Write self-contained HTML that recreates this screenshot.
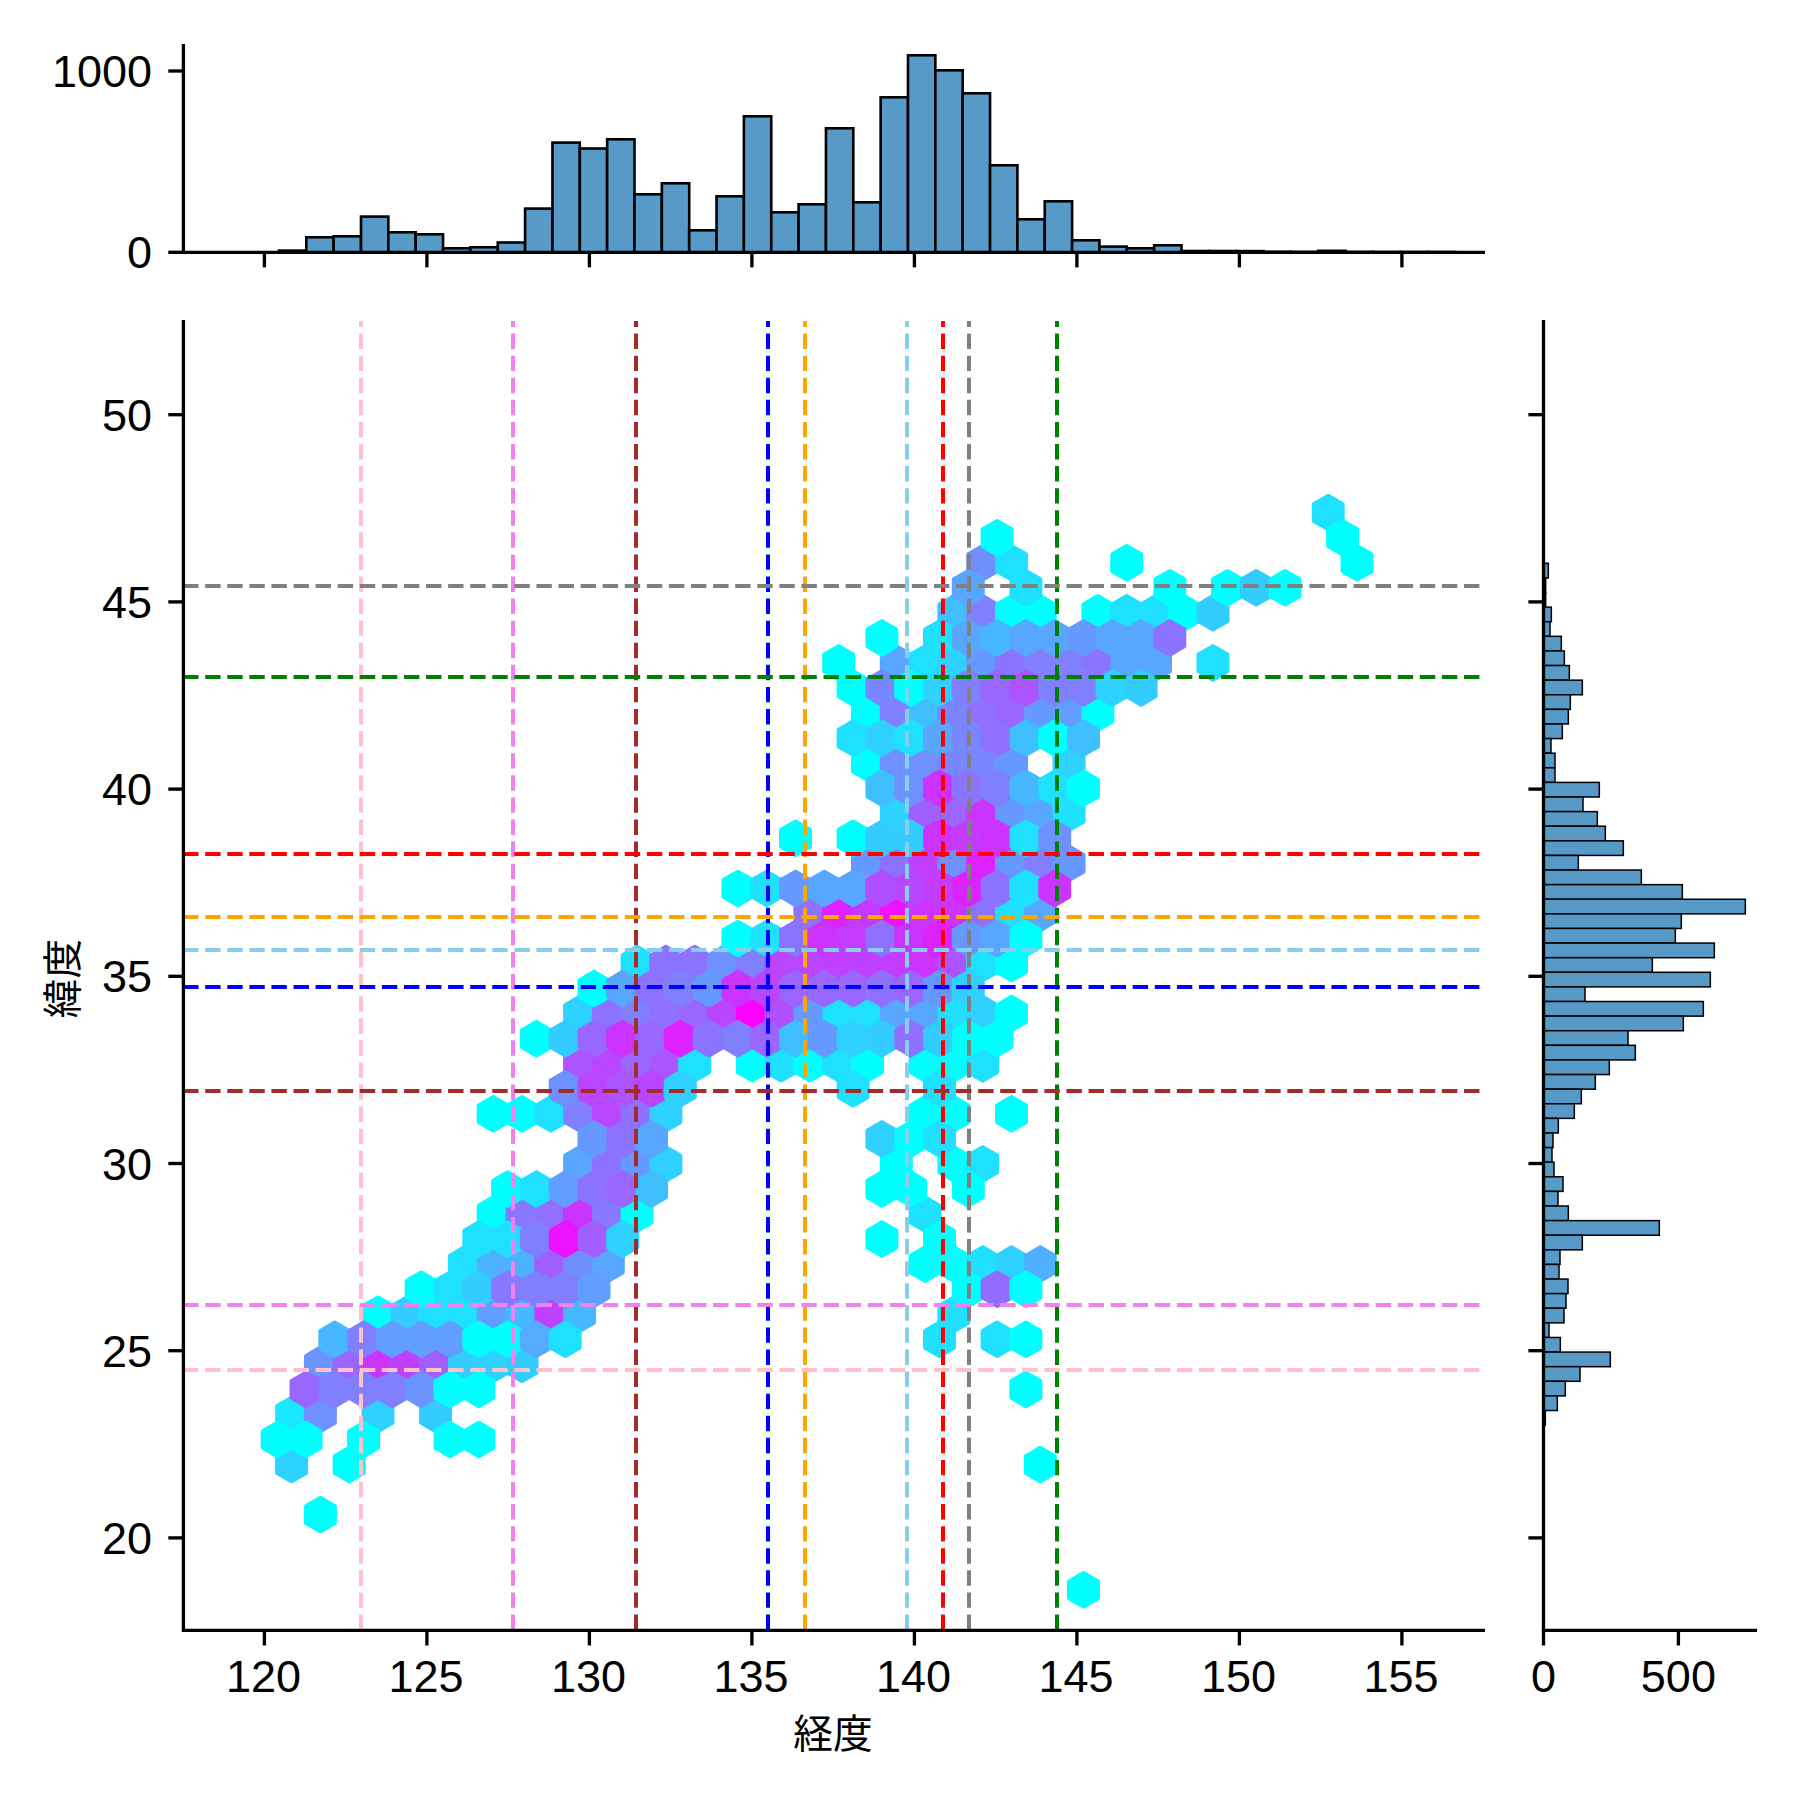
<!DOCTYPE html>
<html lang="ja">
<head>
<meta charset="utf-8">
<title>経度・緯度 jointplot</title>
<style>
html,body{margin:0;padding:0;background:#fff;}
body{width:1800px;height:1800px;overflow:hidden;font-family:"Liberation Sans","Noto Sans CJK JP",sans-serif;}
svg{display:block;}
</style>
</head>
<body>
<svg width="1800" height="1800" viewBox="0 0 1800 1800">
<rect width="1800" height="1800" fill="#fff"/>
<g stroke-width="4.17" stroke-linejoin="round">
<polygon points="306.0,1456.2 306.0,1472.9 291.6,1481.2 277.2,1472.9 277.2,1456.2 291.6,1447.8" fill="#2ed1ff" stroke="#2ed1ff"/>
<polygon points="306.0,1406.1 306.0,1422.8 291.6,1431.2 277.2,1422.8 277.2,1406.1 291.6,1397.8" fill="#1ae6ff" stroke="#1ae6ff"/>
<polygon points="334.8,1506.3 334.8,1523.0 320.4,1531.3 306.0,1523.0 306.0,1506.3 320.4,1497.9" fill="#00ffff" stroke="#00ffff"/>
<polygon points="334.8,1406.1 334.8,1422.8 320.4,1431.2 306.0,1422.8 306.0,1406.1 320.4,1397.8" fill="#6e91ff" stroke="#6e91ff"/>
<polygon points="334.8,1356.0 334.8,1372.7 320.4,1381.0 306.0,1372.7 306.0,1356.0 320.4,1347.6" fill="#6b94ff" stroke="#6b94ff"/>
<polygon points="363.6,1456.2 363.6,1472.9 349.2,1481.2 334.8,1472.9 334.8,1456.2 349.2,1447.8" fill="#00ffff" stroke="#00ffff"/>
<polygon points="363.6,1356.0 363.6,1372.7 349.2,1381.0 334.8,1372.7 334.8,1356.0 349.2,1347.6" fill="#9966ff" stroke="#9966ff"/>
<polygon points="392.4,1406.1 392.4,1422.8 378.0,1431.2 363.6,1422.8 363.6,1406.1 378.0,1397.8" fill="#2ed1ff" stroke="#2ed1ff"/>
<polygon points="392.4,1356.0 392.4,1372.7 378.0,1381.0 363.6,1372.7 363.6,1356.0 378.0,1347.6" fill="#cc33ff" stroke="#cc33ff"/>
<polygon points="392.4,1305.9 392.4,1322.6 378.0,1331.0 363.6,1322.6 363.6,1305.9 378.0,1297.5" fill="#00ffff" stroke="#00ffff"/>
<polygon points="421.2,1356.0 421.2,1372.7 406.8,1381.0 392.4,1372.7 392.4,1356.0 406.8,1347.6" fill="#bf40ff" stroke="#bf40ff"/>
<polygon points="421.2,1305.9 421.2,1322.6 406.8,1331.0 392.4,1322.6 392.4,1305.9 406.8,1297.5" fill="#33ccff" stroke="#33ccff"/>
<polygon points="450.0,1406.1 450.0,1422.8 435.6,1431.2 421.2,1422.8 421.2,1406.1 435.6,1397.8" fill="#33ccff" stroke="#33ccff"/>
<polygon points="450.0,1356.0 450.0,1372.7 435.6,1381.0 421.2,1372.7 421.2,1356.0 435.6,1347.6" fill="#a15eff" stroke="#a15eff"/>
<polygon points="450.0,1305.9 450.0,1322.6 435.6,1331.0 421.2,1322.6 421.2,1305.9 435.6,1297.5" fill="#1fe0ff" stroke="#1fe0ff"/>
<polygon points="478.8,1356.0 478.8,1372.7 464.4,1381.0 450.0,1372.7 450.0,1356.0 464.4,1347.6" fill="#33ccff" stroke="#33ccff"/>
<polygon points="478.8,1305.9 478.8,1322.6 464.4,1331.0 450.0,1322.6 450.0,1305.9 464.4,1297.5" fill="#1fe0ff" stroke="#1fe0ff"/>
<polygon points="478.8,1255.8 478.8,1272.5 464.4,1280.8 450.0,1272.5 450.0,1255.8 464.4,1247.4" fill="#1fe0ff" stroke="#1fe0ff"/>
<polygon points="507.6,1356.0 507.6,1372.7 493.2,1381.0 478.8,1372.7 478.8,1356.0 493.2,1347.6" fill="#2ed1ff" stroke="#2ed1ff"/>
<polygon points="507.6,1305.9 507.6,1322.6 493.2,1331.0 478.8,1322.6 478.8,1305.9 493.2,1297.5" fill="#619eff" stroke="#619eff"/>
<polygon points="507.6,1255.8 507.6,1272.5 493.2,1280.8 478.8,1272.5 478.8,1255.8 493.2,1247.4" fill="#4cb2ff" stroke="#4cb2ff"/>
<polygon points="507.6,1205.7 507.6,1222.4 493.2,1230.8 478.8,1222.4 478.8,1205.7 493.2,1197.3" fill="#00ffff" stroke="#00ffff"/>
<polygon points="507.6,1105.5 507.6,1122.2 493.2,1130.5 478.8,1122.2 478.8,1105.5 493.2,1097.1" fill="#00ffff" stroke="#00ffff"/>
<polygon points="536.4,1356.0 536.4,1372.7 522.0,1381.0 507.6,1372.7 507.6,1356.0 522.0,1347.6" fill="#33ccff" stroke="#33ccff"/>
<polygon points="536.4,1305.9 536.4,1322.6 522.0,1331.0 507.6,1322.6 507.6,1305.9 522.0,1297.5" fill="#47b8ff" stroke="#47b8ff"/>
<polygon points="536.4,1255.8 536.4,1272.5 522.0,1280.8 507.6,1272.5 507.6,1255.8 522.0,1247.4" fill="#4cb2ff" stroke="#4cb2ff"/>
<polygon points="536.4,1205.7 536.4,1222.4 522.0,1230.8 507.6,1222.4 507.6,1205.7 522.0,1197.3" fill="#8778ff" stroke="#8778ff"/>
<polygon points="536.4,1105.5 536.4,1122.2 522.0,1130.5 507.6,1122.2 507.6,1105.5 522.0,1097.1" fill="#00ffff" stroke="#00ffff"/>
<polygon points="565.2,1305.9 565.2,1322.6 550.8,1331.0 536.4,1322.6 536.4,1305.9 550.8,1297.5" fill="#bf40ff" stroke="#bf40ff"/>
<polygon points="565.2,1255.8 565.2,1272.5 550.8,1280.8 536.4,1272.5 536.4,1255.8 550.8,1247.4" fill="#a15eff" stroke="#a15eff"/>
<polygon points="565.2,1205.7 565.2,1222.4 550.8,1230.8 536.4,1222.4 536.4,1205.7 550.8,1197.3" fill="#8f70ff" stroke="#8f70ff"/>
<polygon points="565.2,1105.5 565.2,1122.2 550.8,1130.5 536.4,1122.2 536.4,1105.5 550.8,1097.1" fill="#1fe0ff" stroke="#1fe0ff"/>
<polygon points="594.0,1305.9 594.0,1322.6 579.6,1331.0 565.2,1322.6 565.2,1305.9 579.6,1297.5" fill="#47b8ff" stroke="#47b8ff"/>
<polygon points="594.0,1255.8 594.0,1272.5 579.6,1280.8 565.2,1272.5 565.2,1255.8 579.6,1247.4" fill="#708fff" stroke="#708fff"/>
<polygon points="594.0,1205.7 594.0,1222.4 579.6,1230.8 565.2,1222.4 565.2,1205.7 579.6,1197.3" fill="#cc33ff" stroke="#cc33ff"/>
<polygon points="594.0,1155.6 594.0,1172.3 579.6,1180.6 565.2,1172.3 565.2,1155.6 579.6,1147.2" fill="#59a6ff" stroke="#59a6ff"/>
<polygon points="594.0,1105.5 594.0,1122.2 579.6,1130.5 565.2,1122.2 565.2,1105.5 579.6,1097.1" fill="#8080ff" stroke="#8080ff"/>
<polygon points="594.0,1055.4 594.0,1072.1 579.6,1080.5 565.2,1072.1 565.2,1055.4 579.6,1047.0" fill="#ab54ff" stroke="#ab54ff"/>
<polygon points="594.0,1005.3 594.0,1022.0 579.6,1030.3 565.2,1022.0 565.2,1005.3 579.6,996.9" fill="#2ed1ff" stroke="#2ed1ff"/>
<polygon points="622.7,1255.8 622.7,1272.5 608.4,1280.8 594.0,1272.5 594.0,1255.8 608.4,1247.4" fill="#59a6ff" stroke="#59a6ff"/>
<polygon points="622.7,1205.7 622.7,1222.4 608.4,1230.8 594.0,1222.4 594.0,1205.7 608.4,1197.3" fill="#8778ff" stroke="#8778ff"/>
<polygon points="622.7,1155.6 622.7,1172.3 608.4,1180.6 594.0,1172.3 594.0,1155.6 608.4,1147.2" fill="#8c73ff" stroke="#8c73ff"/>
<polygon points="622.7,1105.5 622.7,1122.2 608.4,1130.5 594.0,1122.2 594.0,1105.5 608.4,1097.1" fill="#ba45ff" stroke="#ba45ff"/>
<polygon points="622.7,1055.4 622.7,1072.1 608.4,1080.5 594.0,1072.1 594.0,1055.4 608.4,1047.0" fill="#ba45ff" stroke="#ba45ff"/>
<polygon points="622.7,1005.3 622.7,1022.0 608.4,1030.3 594.0,1022.0 594.0,1005.3 608.4,996.9" fill="#8c73ff" stroke="#8c73ff"/>
<polygon points="651.5,1205.7 651.5,1222.4 637.1,1230.8 622.7,1222.4 622.7,1205.7 637.1,1197.3" fill="#00ffff" stroke="#00ffff"/>
<polygon points="651.5,1155.6 651.5,1172.3 637.1,1180.6 622.7,1172.3 622.7,1155.6 637.1,1147.2" fill="#6699ff" stroke="#6699ff"/>
<polygon points="651.5,1105.5 651.5,1122.2 637.1,1130.5 622.7,1122.2 622.7,1105.5 637.1,1097.1" fill="#8c73ff" stroke="#8c73ff"/>
<polygon points="651.5,1055.4 651.5,1072.1 637.1,1080.5 622.7,1072.1 622.7,1055.4 637.1,1047.0" fill="#9966ff" stroke="#9966ff"/>
<polygon points="651.5,1005.3 651.5,1022.0 637.1,1030.3 622.7,1022.0 622.7,1005.3 637.1,996.9" fill="#8080ff" stroke="#8080ff"/>
<polygon points="651.5,955.2 651.5,971.9 637.1,980.2 622.7,971.9 622.7,955.2 637.1,946.8" fill="#1fe0ff" stroke="#1fe0ff"/>
<polygon points="680.3,1155.6 680.3,1172.3 665.9,1180.6 651.5,1172.3 651.5,1155.6 665.9,1147.2" fill="#2ed1ff" stroke="#2ed1ff"/>
<polygon points="680.3,1105.5 680.3,1122.2 665.9,1130.5 651.5,1122.2 651.5,1105.5 665.9,1097.1" fill="#2ed1ff" stroke="#2ed1ff"/>
<polygon points="680.3,1055.4 680.3,1072.1 665.9,1080.5 651.5,1072.1 651.5,1055.4 665.9,1047.0" fill="#ab54ff" stroke="#ab54ff"/>
<polygon points="680.3,1005.3 680.3,1022.0 665.9,1030.3 651.5,1022.0 651.5,1005.3 665.9,996.9" fill="#8f70ff" stroke="#8f70ff"/>
<polygon points="680.3,955.2 680.3,971.9 665.9,980.2 651.5,971.9 651.5,955.2 665.9,946.8" fill="#8c73ff" stroke="#8c73ff"/>
<polygon points="709.1,1055.4 709.1,1072.1 694.7,1080.5 680.3,1072.1 680.3,1055.4 694.7,1047.0" fill="#1fe0ff" stroke="#1fe0ff"/>
<polygon points="709.1,1005.3 709.1,1022.0 694.7,1030.3 680.3,1022.0 680.3,1005.3 694.7,996.9" fill="#9966ff" stroke="#9966ff"/>
<polygon points="709.1,955.2 709.1,971.9 694.7,980.2 680.3,971.9 680.3,955.2 694.7,946.8" fill="#8c73ff" stroke="#8c73ff"/>
<polygon points="737.9,1005.3 737.9,1022.0 723.5,1030.3 709.1,1022.0 709.1,1005.3 723.5,996.9" fill="#ba45ff" stroke="#ba45ff"/>
<polygon points="737.9,955.2 737.9,971.9 723.5,980.2 709.1,971.9 709.1,955.2 723.5,946.8" fill="#6e91ff" stroke="#6e91ff"/>
<polygon points="766.7,1055.4 766.7,1072.1 752.3,1080.5 737.9,1072.1 737.9,1055.4 752.3,1047.0" fill="#00ffff" stroke="#00ffff"/>
<polygon points="766.7,1005.3 766.7,1022.0 752.3,1030.3 737.9,1022.0 737.9,1005.3 752.3,996.9" fill="#ff00ff" stroke="#ff00ff"/>
<polygon points="766.7,955.2 766.7,971.9 752.3,980.2 737.9,971.9 737.9,955.2 752.3,946.8" fill="#8080ff" stroke="#8080ff"/>
<polygon points="795.5,1055.4 795.5,1072.1 781.1,1080.5 766.7,1072.1 766.7,1055.4 781.1,1047.0" fill="#1fe0ff" stroke="#1fe0ff"/>
<polygon points="795.5,1005.3 795.5,1022.0 781.1,1030.3 766.7,1022.0 766.7,1005.3 781.1,996.9" fill="#b04fff" stroke="#b04fff"/>
<polygon points="795.5,955.2 795.5,971.9 781.1,980.2 766.7,971.9 766.7,955.2 781.1,946.8" fill="#ba45ff" stroke="#ba45ff"/>
<polygon points="824.3,1055.4 824.3,1072.1 809.9,1080.5 795.5,1072.1 795.5,1055.4 809.9,1047.0" fill="#00ffff" stroke="#00ffff"/>
<polygon points="824.3,1005.3 824.3,1022.0 809.9,1030.3 795.5,1022.0 795.5,1005.3 809.9,996.9" fill="#6699ff" stroke="#6699ff"/>
<polygon points="824.3,955.2 824.3,971.9 809.9,980.2 795.5,971.9 795.5,955.2 809.9,946.8" fill="#ba45ff" stroke="#ba45ff"/>
<polygon points="824.3,905.1 824.3,921.8 809.9,930.1 795.5,921.8 795.5,905.1 809.9,896.7" fill="#8c73ff" stroke="#8c73ff"/>
<polygon points="853.1,1055.4 853.1,1072.1 838.7,1080.5 824.3,1072.1 824.3,1055.4 838.7,1047.0" fill="#1fe0ff" stroke="#1fe0ff"/>
<polygon points="853.1,1005.3 853.1,1022.0 838.7,1030.3 824.3,1022.0 824.3,1005.3 838.7,996.9" fill="#1fe0ff" stroke="#1fe0ff"/>
<polygon points="853.1,955.2 853.1,971.9 838.7,980.2 824.3,971.9 824.3,955.2 838.7,946.8" fill="#bf40ff" stroke="#bf40ff"/>
<polygon points="853.1,905.1 853.1,921.8 838.7,930.1 824.3,921.8 824.3,905.1 838.7,896.7" fill="#de21ff" stroke="#de21ff"/>
<polygon points="853.1,654.6 853.1,671.3 838.7,679.6 824.3,671.3 824.3,654.6 838.7,646.2" fill="#00ffff" stroke="#00ffff"/>
<polygon points="881.9,1055.4 881.9,1072.1 867.5,1080.5 853.1,1072.1 853.1,1055.4 867.5,1047.0" fill="#00ffff" stroke="#00ffff"/>
<polygon points="881.9,1005.3 881.9,1022.0 867.5,1030.3 853.1,1022.0 853.1,1005.3 867.5,996.9" fill="#1fe0ff" stroke="#1fe0ff"/>
<polygon points="881.9,955.2 881.9,971.9 867.5,980.2 853.1,971.9 853.1,955.2 867.5,946.8" fill="#bf40ff" stroke="#bf40ff"/>
<polygon points="881.9,905.1 881.9,921.8 867.5,930.1 853.1,921.8 853.1,905.1 867.5,896.7" fill="#c43bff" stroke="#c43bff"/>
<polygon points="881.9,855.0 881.9,871.7 867.5,880.0 853.1,871.7 853.1,855.0 867.5,846.6" fill="#6699ff" stroke="#6699ff"/>
<polygon points="881.9,754.8 881.9,771.5 867.5,779.9 853.1,771.5 853.1,754.8 867.5,746.4" fill="#00ffff" stroke="#00ffff"/>
<polygon points="881.9,704.7 881.9,721.4 867.5,729.8 853.1,721.4 853.1,704.7 867.5,696.3" fill="#00ffff" stroke="#00ffff"/>
<polygon points="910.7,1155.6 910.7,1172.3 896.3,1180.6 881.9,1172.3 881.9,1155.6 896.3,1147.2" fill="#00ffff" stroke="#00ffff"/>
<polygon points="910.7,1005.3 910.7,1022.0 896.3,1030.3 881.9,1022.0 881.9,1005.3 896.3,996.9" fill="#59a6ff" stroke="#59a6ff"/>
<polygon points="910.7,955.2 910.7,971.9 896.3,980.2 881.9,971.9 881.9,955.2 896.3,946.8" fill="#c23dff" stroke="#c23dff"/>
<polygon points="910.7,905.1 910.7,921.8 896.3,930.1 881.9,921.8 881.9,905.1 896.3,896.7" fill="#ed12ff" stroke="#ed12ff"/>
<polygon points="910.7,855.0 910.7,871.7 896.3,880.0 881.9,871.7 881.9,855.0 896.3,846.6" fill="#8c73ff" stroke="#8c73ff"/>
<polygon points="910.7,804.9 910.7,821.6 896.3,829.9 881.9,821.6 881.9,804.9 896.3,796.5" fill="#2ed1ff" stroke="#2ed1ff"/>
<polygon points="910.7,754.8 910.7,771.5 896.3,779.9 881.9,771.5 881.9,754.8 896.3,746.4" fill="#6e91ff" stroke="#6e91ff"/>
<polygon points="910.7,704.7 910.7,721.4 896.3,729.8 881.9,721.4 881.9,704.7 896.3,696.3" fill="#8080ff" stroke="#8080ff"/>
<polygon points="910.7,654.6 910.7,671.3 896.3,679.6 881.9,671.3 881.9,654.6 896.3,646.2" fill="#59a6ff" stroke="#59a6ff"/>
<polygon points="939.5,1255.8 939.5,1272.5 925.1,1280.8 910.7,1272.5 910.7,1255.8 925.1,1247.4" fill="#00ffff" stroke="#00ffff"/>
<polygon points="939.5,1205.7 939.5,1222.4 925.1,1230.8 910.7,1222.4 910.7,1205.7 925.1,1197.3" fill="#1fe0ff" stroke="#1fe0ff"/>
<polygon points="939.5,1105.5 939.5,1122.2 925.1,1130.5 910.7,1122.2 910.7,1105.5 925.1,1097.1" fill="#00ffff" stroke="#00ffff"/>
<polygon points="939.5,1055.4 939.5,1072.1 925.1,1080.5 910.7,1072.1 910.7,1055.4 925.1,1047.0" fill="#00ffff" stroke="#00ffff"/>
<polygon points="939.5,1005.3 939.5,1022.0 925.1,1030.3 910.7,1022.0 910.7,1005.3 925.1,996.9" fill="#59a6ff" stroke="#59a6ff"/>
<polygon points="939.5,955.2 939.5,971.9 925.1,980.2 910.7,971.9 910.7,955.2 925.1,946.8" fill="#cc33ff" stroke="#cc33ff"/>
<polygon points="939.5,905.1 939.5,921.8 925.1,930.1 910.7,921.8 910.7,905.1 925.1,896.7" fill="#cc33ff" stroke="#cc33ff"/>
<polygon points="939.5,855.0 939.5,871.7 925.1,880.0 910.7,871.7 910.7,855.0 925.1,846.6" fill="#c23dff" stroke="#c23dff"/>
<polygon points="939.5,804.9 939.5,821.6 925.1,829.9 910.7,821.6 910.7,804.9 925.1,796.5" fill="#a15eff" stroke="#a15eff"/>
<polygon points="939.5,754.8 939.5,771.5 925.1,779.9 910.7,771.5 910.7,754.8 925.1,746.4" fill="#6e91ff" stroke="#6e91ff"/>
<polygon points="939.5,704.7 939.5,721.4 925.1,729.8 910.7,721.4 910.7,704.7 925.1,696.3" fill="#40bfff" stroke="#40bfff"/>
<polygon points="939.5,654.6 939.5,671.3 925.1,679.6 910.7,671.3 910.7,654.6 925.1,646.2" fill="#1fe0ff" stroke="#1fe0ff"/>
<polygon points="968.3,1305.9 968.3,1322.6 953.9,1331.0 939.5,1322.6 939.5,1305.9 953.9,1297.5" fill="#1fe0ff" stroke="#1fe0ff"/>
<polygon points="968.3,1255.8 968.3,1272.5 953.9,1280.8 939.5,1272.5 939.5,1255.8 953.9,1247.4" fill="#00ffff" stroke="#00ffff"/>
<polygon points="968.3,1155.6 968.3,1172.3 953.9,1180.6 939.5,1172.3 939.5,1155.6 953.9,1147.2" fill="#00ffff" stroke="#00ffff"/>
<polygon points="968.3,1105.5 968.3,1122.2 953.9,1130.5 939.5,1122.2 939.5,1105.5 953.9,1097.1" fill="#00ffff" stroke="#00ffff"/>
<polygon points="968.3,1055.4 968.3,1072.1 953.9,1080.5 939.5,1072.1 939.5,1055.4 953.9,1047.0" fill="#00ffff" stroke="#00ffff"/>
<polygon points="968.3,1005.3 968.3,1022.0 953.9,1030.3 939.5,1022.0 939.5,1005.3 953.9,996.9" fill="#1fe0ff" stroke="#1fe0ff"/>
<polygon points="968.3,955.2 968.3,971.9 953.9,980.2 939.5,971.9 939.5,955.2 953.9,946.8" fill="#ab54ff" stroke="#ab54ff"/>
<polygon points="968.3,905.1 968.3,921.8 953.9,930.1 939.5,921.8 939.5,905.1 953.9,896.7" fill="#cc33ff" stroke="#cc33ff"/>
<polygon points="968.3,855.0 968.3,871.7 953.9,880.0 939.5,871.7 939.5,855.0 953.9,846.6" fill="#6e91ff" stroke="#6e91ff"/>
<polygon points="968.3,804.9 968.3,821.6 953.9,829.9 939.5,821.6 939.5,804.9 953.9,796.5" fill="#9966ff" stroke="#9966ff"/>
<polygon points="968.3,754.8 968.3,771.5 953.9,779.9 939.5,771.5 939.5,754.8 953.9,746.4" fill="#7887ff" stroke="#7887ff"/>
<polygon points="968.3,704.7 968.3,721.4 953.9,729.8 939.5,721.4 939.5,704.7 953.9,696.3" fill="#7887ff" stroke="#7887ff"/>
<polygon points="968.3,654.6 968.3,671.3 953.9,679.6 939.5,671.3 939.5,654.6 953.9,646.2" fill="#2ed1ff" stroke="#2ed1ff"/>
<polygon points="968.3,604.5 968.3,621.2 953.9,629.5 939.5,621.2 939.5,604.5 953.9,596.1" fill="#40bfff" stroke="#40bfff"/>
<polygon points="997.1,1255.8 997.1,1272.5 982.7,1280.8 968.3,1272.5 968.3,1255.8 982.7,1247.4" fill="#1fe0ff" stroke="#1fe0ff"/>
<polygon points="997.1,1155.6 997.1,1172.3 982.7,1180.6 968.3,1172.3 968.3,1155.6 982.7,1147.2" fill="#1fe0ff" stroke="#1fe0ff"/>
<polygon points="997.1,1055.4 997.1,1072.1 982.7,1080.5 968.3,1072.1 968.3,1055.4 982.7,1047.0" fill="#1fe0ff" stroke="#1fe0ff"/>
<polygon points="997.1,1005.3 997.1,1022.0 982.7,1030.3 968.3,1022.0 968.3,1005.3 982.7,996.9" fill="#2ed1ff" stroke="#2ed1ff"/>
<polygon points="997.1,955.2 997.1,971.9 982.7,980.2 968.3,971.9 968.3,955.2 982.7,946.8" fill="#1fe0ff" stroke="#1fe0ff"/>
<polygon points="997.1,905.1 997.1,921.8 982.7,930.1 968.3,921.8 968.3,905.1 982.7,896.7" fill="#8c73ff" stroke="#8c73ff"/>
<polygon points="997.1,855.0 997.1,871.7 982.7,880.0 968.3,871.7 968.3,855.0 982.7,846.6" fill="#de21ff" stroke="#de21ff"/>
<polygon points="997.1,804.9 997.1,821.6 982.7,829.9 968.3,821.6 968.3,804.9 982.7,796.5" fill="#cc33ff" stroke="#cc33ff"/>
<polygon points="997.1,754.8 997.1,771.5 982.7,779.9 968.3,771.5 968.3,754.8 982.7,746.4" fill="#7887ff" stroke="#7887ff"/>
<polygon points="997.1,704.7 997.1,721.4 982.7,729.8 968.3,721.4 968.3,704.7 982.7,696.3" fill="#8f70ff" stroke="#8f70ff"/>
<polygon points="997.1,654.6 997.1,671.3 982.7,679.6 968.3,671.3 968.3,654.6 982.7,646.2" fill="#6699ff" stroke="#6699ff"/>
<polygon points="997.1,604.5 997.1,621.2 982.7,629.5 968.3,621.2 968.3,604.5 982.7,596.1" fill="#8080ff" stroke="#8080ff"/>
<polygon points="997.1,554.4 997.1,571.1 982.7,579.5 968.3,571.1 968.3,554.4 982.7,546.0" fill="#708fff" stroke="#708fff"/>
<polygon points="1025.9,1255.8 1025.9,1272.5 1011.5,1280.8 997.1,1272.5 997.1,1255.8 1011.5,1247.4" fill="#2ed1ff" stroke="#2ed1ff"/>
<polygon points="1025.9,1105.5 1025.9,1122.2 1011.5,1130.5 997.1,1122.2 997.1,1105.5 1011.5,1097.1" fill="#00ffff" stroke="#00ffff"/>
<polygon points="1025.9,1005.3 1025.9,1022.0 1011.5,1030.3 997.1,1022.0 997.1,1005.3 1011.5,996.9" fill="#00ffff" stroke="#00ffff"/>
<polygon points="1025.9,955.2 1025.9,971.9 1011.5,980.2 997.1,971.9 997.1,955.2 1011.5,946.8" fill="#00ffff" stroke="#00ffff"/>
<polygon points="1025.9,905.1 1025.9,921.8 1011.5,930.1 997.1,921.8 997.1,905.1 1011.5,896.7" fill="#1fe0ff" stroke="#1fe0ff"/>
<polygon points="1025.9,855.0 1025.9,871.7 1011.5,880.0 997.1,871.7 997.1,855.0 1011.5,846.6" fill="#6699ff" stroke="#6699ff"/>
<polygon points="1025.9,804.9 1025.9,821.6 1011.5,829.9 997.1,821.6 997.1,804.9 1011.5,796.5" fill="#6699ff" stroke="#6699ff"/>
<polygon points="1025.9,754.8 1025.9,771.5 1011.5,779.9 997.1,771.5 997.1,754.8 1011.5,746.4" fill="#6699ff" stroke="#6699ff"/>
<polygon points="1025.9,704.7 1025.9,721.4 1011.5,729.8 997.1,721.4 997.1,704.7 1011.5,696.3" fill="#9966ff" stroke="#9966ff"/>
<polygon points="1025.9,654.6 1025.9,671.3 1011.5,679.6 997.1,671.3 997.1,654.6 1011.5,646.2" fill="#8c73ff" stroke="#8c73ff"/>
<polygon points="1025.9,604.5 1025.9,621.2 1011.5,629.5 997.1,621.2 997.1,604.5 1011.5,596.1" fill="#00ffff" stroke="#00ffff"/>
<polygon points="1025.9,554.4 1025.9,571.1 1011.5,579.5 997.1,571.1 997.1,554.4 1011.5,546.0" fill="#1fe0ff" stroke="#1fe0ff"/>
<polygon points="1054.7,1456.2 1054.7,1472.9 1040.3,1481.2 1025.9,1472.9 1025.9,1456.2 1040.3,1447.8" fill="#00ffff" stroke="#00ffff"/>
<polygon points="1054.7,1255.8 1054.7,1272.5 1040.3,1280.8 1025.9,1272.5 1025.9,1255.8 1040.3,1247.4" fill="#4fb0ff" stroke="#4fb0ff"/>
<polygon points="1054.7,905.1 1054.7,921.8 1040.3,930.1 1025.9,921.8 1025.9,905.1 1040.3,896.7" fill="#59a6ff" stroke="#59a6ff"/>
<polygon points="1054.7,855.0 1054.7,871.7 1040.3,880.0 1025.9,871.7 1025.9,855.0 1040.3,846.6" fill="#8080ff" stroke="#8080ff"/>
<polygon points="1054.7,804.9 1054.7,821.6 1040.3,829.9 1025.9,821.6 1025.9,804.9 1040.3,796.5" fill="#59a6ff" stroke="#59a6ff"/>
<polygon points="1054.7,704.7 1054.7,721.4 1040.3,729.8 1025.9,721.4 1025.9,704.7 1040.3,696.3" fill="#6699ff" stroke="#6699ff"/>
<polygon points="1054.7,654.6 1054.7,671.3 1040.3,679.6 1025.9,671.3 1025.9,654.6 1040.3,646.2" fill="#8080ff" stroke="#8080ff"/>
<polygon points="1054.7,604.5 1054.7,621.2 1040.3,629.5 1025.9,621.2 1025.9,604.5 1040.3,596.1" fill="#00ffff" stroke="#00ffff"/>
<polygon points="1083.5,855.0 1083.5,871.7 1069.1,880.0 1054.7,871.7 1054.7,855.0 1069.1,846.6" fill="#6699ff" stroke="#6699ff"/>
<polygon points="1083.5,804.9 1083.5,821.6 1069.1,829.9 1054.7,821.6 1054.7,804.9 1069.1,796.5" fill="#1fe0ff" stroke="#1fe0ff"/>
<polygon points="1083.5,754.8 1083.5,771.5 1069.1,779.9 1054.7,771.5 1054.7,754.8 1069.1,746.4" fill="#2ed1ff" stroke="#2ed1ff"/>
<polygon points="1083.5,704.7 1083.5,721.4 1069.1,729.8 1054.7,721.4 1054.7,704.7 1069.1,696.3" fill="#619eff" stroke="#619eff"/>
<polygon points="1083.5,654.6 1083.5,671.3 1069.1,679.6 1054.7,671.3 1054.7,654.6 1069.1,646.2" fill="#8080ff" stroke="#8080ff"/>
<polygon points="1112.3,704.7 1112.3,721.4 1097.9,729.8 1083.5,721.4 1083.5,704.7 1097.9,696.3" fill="#00ffff" stroke="#00ffff"/>
<polygon points="1112.3,654.6 1112.3,671.3 1097.9,679.6 1083.5,671.3 1083.5,654.6 1097.9,646.2" fill="#8c73ff" stroke="#8c73ff"/>
<polygon points="1112.3,604.5 1112.3,621.2 1097.9,629.5 1083.5,621.2 1083.5,604.5 1097.9,596.1" fill="#00ffff" stroke="#00ffff"/>
<polygon points="1141.1,654.6 1141.1,671.3 1126.7,679.6 1112.3,671.3 1112.3,654.6 1126.7,646.2" fill="#59a6ff" stroke="#59a6ff"/>
<polygon points="1141.1,604.5 1141.1,621.2 1126.7,629.5 1112.3,621.2 1112.3,604.5 1126.7,596.1" fill="#1fe0ff" stroke="#1fe0ff"/>
<polygon points="1141.1,554.4 1141.1,571.1 1126.7,579.5 1112.3,571.1 1112.3,554.4 1126.7,546.0" fill="#00ffff" stroke="#00ffff"/>
<polygon points="1169.9,654.6 1169.9,671.3 1155.5,679.6 1141.1,671.3 1141.1,654.6 1155.5,646.2" fill="#59a6ff" stroke="#59a6ff"/>
<polygon points="1169.9,604.5 1169.9,621.2 1155.5,629.5 1141.1,621.2 1141.1,604.5 1155.5,596.1" fill="#1fe0ff" stroke="#1fe0ff"/>
<polygon points="1198.6,604.5 1198.6,621.2 1184.2,629.5 1169.9,621.2 1169.9,604.5 1184.2,596.1" fill="#00ffff" stroke="#00ffff"/>
<polygon points="1227.4,654.6 1227.4,671.3 1213.0,679.6 1198.6,671.3 1198.6,654.6 1213.0,646.2" fill="#1fe0ff" stroke="#1fe0ff"/>
<polygon points="1227.4,604.5 1227.4,621.2 1213.0,629.5 1198.6,621.2 1198.6,604.5 1213.0,596.1" fill="#33ccff" stroke="#33ccff"/>
<polygon points="1342.6,504.3 1342.6,521.0 1328.2,529.3 1313.8,521.0 1313.8,504.3 1328.2,495.9" fill="#1fe0ff" stroke="#1fe0ff"/>
<polygon points="1371.4,554.4 1371.4,571.1 1357.0,579.5 1342.6,571.1 1342.6,554.4 1357.0,546.0" fill="#00ffff" stroke="#00ffff"/>
<polygon points="291.6,1431.2 291.6,1447.8 277.2,1456.2 262.8,1447.8 262.8,1431.2 277.2,1422.8" fill="#00ffff" stroke="#00ffff"/>
<polygon points="320.4,1431.2 320.4,1447.8 306.0,1456.2 291.6,1447.8 291.6,1431.2 306.0,1422.8" fill="#00ffff" stroke="#00ffff"/>
<polygon points="320.4,1381.0 320.4,1397.7 306.0,1406.1 291.6,1397.7 291.6,1381.0 306.0,1372.7" fill="#9966ff" stroke="#9966ff"/>
<polygon points="349.2,1381.0 349.2,1397.7 334.8,1406.1 320.4,1397.7 320.4,1381.0 334.8,1372.7" fill="#8080ff" stroke="#8080ff"/>
<polygon points="349.2,1331.0 349.2,1347.6 334.8,1356.0 320.4,1347.6 320.4,1331.0 334.8,1322.6" fill="#47b8ff" stroke="#47b8ff"/>
<polygon points="378.0,1431.2 378.0,1447.8 363.6,1456.2 349.2,1447.8 349.2,1431.2 363.6,1422.8" fill="#00ffff" stroke="#00ffff"/>
<polygon points="378.0,1381.0 378.0,1397.7 363.6,1406.1 349.2,1397.7 349.2,1381.0 363.6,1372.7" fill="#8080ff" stroke="#8080ff"/>
<polygon points="378.0,1331.0 378.0,1347.6 363.6,1356.0 349.2,1347.6 349.2,1331.0 363.6,1322.6" fill="#8080ff" stroke="#8080ff"/>
<polygon points="406.8,1381.0 406.8,1397.7 392.4,1406.1 378.0,1397.7 378.0,1381.0 392.4,1372.7" fill="#8080ff" stroke="#8080ff"/>
<polygon points="406.8,1331.0 406.8,1347.6 392.4,1356.0 378.0,1347.6 378.0,1331.0 392.4,1322.6" fill="#619eff" stroke="#619eff"/>
<polygon points="435.6,1381.0 435.6,1397.7 421.2,1406.1 406.8,1397.7 406.8,1381.0 421.2,1372.7" fill="#6b94ff" stroke="#6b94ff"/>
<polygon points="435.6,1331.0 435.6,1347.6 421.2,1356.0 406.8,1347.6 406.8,1331.0 421.2,1322.6" fill="#619eff" stroke="#619eff"/>
<polygon points="435.6,1280.8 435.6,1297.5 421.2,1305.9 406.8,1297.5 406.8,1280.8 421.2,1272.5" fill="#00ffff" stroke="#00ffff"/>
<polygon points="464.4,1431.2 464.4,1447.8 450.0,1456.2 435.6,1447.8 435.6,1431.2 450.0,1422.8" fill="#00ffff" stroke="#00ffff"/>
<polygon points="464.4,1381.0 464.4,1397.7 450.0,1406.1 435.6,1397.7 435.6,1381.0 450.0,1372.7" fill="#00ffff" stroke="#00ffff"/>
<polygon points="464.4,1331.0 464.4,1347.6 450.0,1356.0 435.6,1347.6 435.6,1331.0 450.0,1322.6" fill="#619eff" stroke="#619eff"/>
<polygon points="464.4,1280.8 464.4,1297.5 450.0,1305.9 435.6,1297.5 435.6,1280.8 450.0,1272.5" fill="#1fe0ff" stroke="#1fe0ff"/>
<polygon points="493.2,1431.2 493.2,1447.8 478.8,1456.2 464.4,1447.8 464.4,1431.2 478.8,1422.8" fill="#00ffff" stroke="#00ffff"/>
<polygon points="493.2,1381.0 493.2,1397.7 478.8,1406.1 464.4,1397.7 464.4,1381.0 478.8,1372.7" fill="#00ffff" stroke="#00ffff"/>
<polygon points="493.2,1331.0 493.2,1347.6 478.8,1356.0 464.4,1347.6 464.4,1331.0 478.8,1322.6" fill="#00ffff" stroke="#00ffff"/>
<polygon points="493.2,1280.8 493.2,1297.5 478.8,1305.9 464.4,1297.5 464.4,1280.8 478.8,1272.5" fill="#33ccff" stroke="#33ccff"/>
<polygon points="493.2,1230.8 493.2,1247.4 478.8,1255.8 464.4,1247.4 464.4,1230.8 478.8,1222.4" fill="#1fe0ff" stroke="#1fe0ff"/>
<polygon points="522.0,1331.0 522.0,1347.6 507.6,1356.0 493.2,1347.6 493.2,1331.0 507.6,1322.6" fill="#00ffff" stroke="#00ffff"/>
<polygon points="522.0,1280.8 522.0,1297.5 507.6,1305.9 493.2,1297.5 493.2,1280.8 507.6,1272.5" fill="#8778ff" stroke="#8778ff"/>
<polygon points="522.0,1230.8 522.0,1247.4 507.6,1255.8 493.2,1247.4 493.2,1230.8 507.6,1222.4" fill="#1fe0ff" stroke="#1fe0ff"/>
<polygon points="522.0,1180.7 522.0,1197.3 507.6,1205.7 493.2,1197.3 493.2,1180.7 507.6,1172.3" fill="#00ffff" stroke="#00ffff"/>
<polygon points="550.8,1331.0 550.8,1347.6 536.4,1356.0 522.0,1347.6 522.0,1331.0 536.4,1322.6" fill="#54abff" stroke="#54abff"/>
<polygon points="550.8,1280.8 550.8,1297.5 536.4,1305.9 522.0,1297.5 522.0,1280.8 536.4,1272.5" fill="#8080ff" stroke="#8080ff"/>
<polygon points="550.8,1230.8 550.8,1247.4 536.4,1255.8 522.0,1247.4 522.0,1230.8 536.4,1222.4" fill="#8080ff" stroke="#8080ff"/>
<polygon points="550.8,1180.7 550.8,1197.3 536.4,1205.7 522.0,1197.3 522.0,1180.7 536.4,1172.3" fill="#1fe0ff" stroke="#1fe0ff"/>
<polygon points="550.8,1030.3 550.8,1047.0 536.4,1055.4 522.0,1047.0 522.0,1030.3 536.4,1022.0" fill="#00ffff" stroke="#00ffff"/>
<polygon points="579.6,1331.0 579.6,1347.6 565.2,1356.0 550.8,1347.6 550.8,1331.0 565.2,1322.6" fill="#1fe0ff" stroke="#1fe0ff"/>
<polygon points="579.6,1280.8 579.6,1297.5 565.2,1305.9 550.8,1297.5 550.8,1280.8 565.2,1272.5" fill="#8080ff" stroke="#8080ff"/>
<polygon points="579.6,1230.8 579.6,1247.4 565.2,1255.8 550.8,1247.4 550.8,1230.8 565.2,1222.4" fill="#ed12ff" stroke="#ed12ff"/>
<polygon points="579.6,1180.7 579.6,1197.3 565.2,1205.7 550.8,1197.3 550.8,1180.7 565.2,1172.3" fill="#619eff" stroke="#619eff"/>
<polygon points="579.6,1080.5 579.6,1097.1 565.2,1105.5 550.8,1097.1 550.8,1080.5 565.2,1072.1" fill="#6e91ff" stroke="#6e91ff"/>
<polygon points="579.6,1030.3 579.6,1047.0 565.2,1055.4 550.8,1047.0 550.8,1030.3 565.2,1022.0" fill="#33ccff" stroke="#33ccff"/>
<polygon points="608.4,1280.8 608.4,1297.5 594.0,1305.9 579.6,1297.5 579.6,1280.8 594.0,1272.5" fill="#619eff" stroke="#619eff"/>
<polygon points="608.4,1230.8 608.4,1247.4 594.0,1255.8 579.6,1247.4 579.6,1230.8 594.0,1222.4" fill="#a15eff" stroke="#a15eff"/>
<polygon points="608.4,1180.7 608.4,1197.3 594.0,1205.7 579.6,1197.3 579.6,1180.7 594.0,1172.3" fill="#8c73ff" stroke="#8c73ff"/>
<polygon points="608.4,1130.5 608.4,1147.2 594.0,1155.6 579.6,1147.2 579.6,1130.5 594.0,1122.2" fill="#6699ff" stroke="#6699ff"/>
<polygon points="608.4,1080.5 608.4,1097.1 594.0,1105.5 579.6,1097.1 579.6,1080.5 594.0,1072.1" fill="#ba45ff" stroke="#ba45ff"/>
<polygon points="608.4,1030.3 608.4,1047.0 594.0,1055.4 579.6,1047.0 579.6,1030.3 594.0,1022.0" fill="#9966ff" stroke="#9966ff"/>
<polygon points="608.4,980.2 608.4,996.9 594.0,1005.3 579.6,996.9 579.6,980.2 594.0,971.9" fill="#00ffff" stroke="#00ffff"/>
<polygon points="637.1,1230.8 637.1,1247.4 622.7,1255.8 608.3,1247.4 608.3,1230.8 622.7,1222.4" fill="#2ed1ff" stroke="#2ed1ff"/>
<polygon points="637.1,1180.7 637.1,1197.3 622.7,1205.7 608.3,1197.3 608.3,1180.7 622.7,1172.3" fill="#9966ff" stroke="#9966ff"/>
<polygon points="637.1,1130.5 637.1,1147.2 622.7,1155.6 608.3,1147.2 608.3,1130.5 622.7,1122.2" fill="#8c73ff" stroke="#8c73ff"/>
<polygon points="637.1,1080.5 637.1,1097.1 622.7,1105.5 608.3,1097.1 608.3,1080.5 622.7,1072.1" fill="#ab54ff" stroke="#ab54ff"/>
<polygon points="637.1,1030.3 637.1,1047.0 622.7,1055.4 608.3,1047.0 608.3,1030.3 622.7,1022.0" fill="#cc33ff" stroke="#cc33ff"/>
<polygon points="637.1,980.2 637.1,996.9 622.7,1005.3 608.3,996.9 608.3,980.2 622.7,971.9" fill="#59a6ff" stroke="#59a6ff"/>
<polygon points="665.9,1180.7 665.9,1197.3 651.5,1205.7 637.1,1197.3 637.1,1180.7 651.5,1172.3" fill="#40bfff" stroke="#40bfff"/>
<polygon points="665.9,1130.5 665.9,1147.2 651.5,1155.6 637.1,1147.2 637.1,1130.5 651.5,1122.2" fill="#59a6ff" stroke="#59a6ff"/>
<polygon points="665.9,1080.5 665.9,1097.1 651.5,1105.5 637.1,1097.1 637.1,1080.5 651.5,1072.1" fill="#ba45ff" stroke="#ba45ff"/>
<polygon points="665.9,1030.3 665.9,1047.0 651.5,1055.4 637.1,1047.0 637.1,1030.3 651.5,1022.0" fill="#9966ff" stroke="#9966ff"/>
<polygon points="665.9,980.2 665.9,996.9 651.5,1005.3 637.1,996.9 637.1,980.2 651.5,971.9" fill="#8c73ff" stroke="#8c73ff"/>
<polygon points="694.7,1080.5 694.7,1097.1 680.3,1105.5 665.9,1097.1 665.9,1080.5 680.3,1072.1" fill="#2ed1ff" stroke="#2ed1ff"/>
<polygon points="694.7,1030.3 694.7,1047.0 680.3,1055.4 665.9,1047.0 665.9,1030.3 680.3,1022.0" fill="#de21ff" stroke="#de21ff"/>
<polygon points="694.7,980.2 694.7,996.9 680.3,1005.3 665.9,996.9 665.9,980.2 680.3,971.9" fill="#8080ff" stroke="#8080ff"/>
<polygon points="723.5,1030.3 723.5,1047.0 709.1,1055.4 694.7,1047.0 694.7,1030.3 709.1,1022.0" fill="#8c73ff" stroke="#8c73ff"/>
<polygon points="723.5,980.2 723.5,996.9 709.1,1005.3 694.7,996.9 694.7,980.2 709.1,971.9" fill="#6699ff" stroke="#6699ff"/>
<polygon points="752.3,1030.3 752.3,1047.0 737.9,1055.4 723.5,1047.0 723.5,1030.3 737.9,1022.0" fill="#8080ff" stroke="#8080ff"/>
<polygon points="752.3,980.2 752.3,996.9 737.9,1005.3 723.5,996.9 723.5,980.2 737.9,971.9" fill="#cc33ff" stroke="#cc33ff"/>
<polygon points="752.3,930.1 752.3,946.8 737.9,955.2 723.5,946.8 723.5,930.1 737.9,921.8" fill="#00ffff" stroke="#00ffff"/>
<polygon points="752.3,880.0 752.3,896.8 737.9,905.1 723.5,896.8 723.5,880.0 737.9,871.7" fill="#00ffff" stroke="#00ffff"/>
<polygon points="781.1,1030.3 781.1,1047.0 766.7,1055.4 752.3,1047.0 752.3,1030.3 766.7,1022.0" fill="#9966ff" stroke="#9966ff"/>
<polygon points="781.1,980.2 781.1,996.9 766.7,1005.3 752.3,996.9 752.3,980.2 766.7,971.9" fill="#ba45ff" stroke="#ba45ff"/>
<polygon points="781.1,930.1 781.1,946.8 766.7,955.2 752.3,946.8 752.3,930.1 766.7,921.8" fill="#1fe0ff" stroke="#1fe0ff"/>
<polygon points="781.1,880.0 781.1,896.8 766.7,905.1 752.3,896.8 752.3,880.0 766.7,871.7" fill="#1fe0ff" stroke="#1fe0ff"/>
<polygon points="809.9,1030.3 809.9,1047.0 795.5,1055.4 781.1,1047.0 781.1,1030.3 795.5,1022.0" fill="#40bfff" stroke="#40bfff"/>
<polygon points="809.9,980.2 809.9,996.9 795.5,1005.3 781.1,996.9 781.1,980.2 795.5,971.9" fill="#9966ff" stroke="#9966ff"/>
<polygon points="809.9,930.1 809.9,946.8 795.5,955.2 781.1,946.8 781.1,930.1 795.5,921.8" fill="#8c73ff" stroke="#8c73ff"/>
<polygon points="809.9,880.0 809.9,896.8 795.5,905.1 781.1,896.8 781.1,880.0 795.5,871.7" fill="#6699ff" stroke="#6699ff"/>
<polygon points="809.9,829.9 809.9,846.6 795.5,855.0 781.1,846.6 781.1,829.9 795.5,821.6" fill="#00ffff" stroke="#00ffff"/>
<polygon points="838.7,1030.3 838.7,1047.0 824.3,1055.4 809.9,1047.0 809.9,1030.3 824.3,1022.0" fill="#6699ff" stroke="#6699ff"/>
<polygon points="838.7,980.2 838.7,996.9 824.3,1005.3 809.9,996.9 809.9,980.2 824.3,971.9" fill="#9966ff" stroke="#9966ff"/>
<polygon points="838.7,930.1 838.7,946.8 824.3,955.2 809.9,946.8 809.9,930.1 824.3,921.8" fill="#cc33ff" stroke="#cc33ff"/>
<polygon points="838.7,880.0 838.7,896.8 824.3,905.1 809.9,896.8 809.9,880.0 824.3,871.7" fill="#59a6ff" stroke="#59a6ff"/>
<polygon points="867.5,1080.5 867.5,1097.1 853.1,1105.5 838.7,1097.1 838.7,1080.5 853.1,1072.1" fill="#1fe0ff" stroke="#1fe0ff"/>
<polygon points="867.5,1030.3 867.5,1047.0 853.1,1055.4 838.7,1047.0 838.7,1030.3 853.1,1022.0" fill="#2ed1ff" stroke="#2ed1ff"/>
<polygon points="867.5,980.2 867.5,996.9 853.1,1005.3 838.7,996.9 838.7,980.2 853.1,971.9" fill="#9966ff" stroke="#9966ff"/>
<polygon points="867.5,930.1 867.5,946.8 853.1,955.2 838.7,946.8 838.7,930.1 853.1,921.8" fill="#c43bff" stroke="#c43bff"/>
<polygon points="867.5,880.0 867.5,896.8 853.1,905.1 838.7,896.8 838.7,880.0 853.1,871.7" fill="#59a6ff" stroke="#59a6ff"/>
<polygon points="867.5,829.9 867.5,846.6 853.1,855.0 838.7,846.6 838.7,829.9 853.1,821.6" fill="#00ffff" stroke="#00ffff"/>
<polygon points="867.5,729.7 867.5,746.4 853.1,754.8 838.7,746.4 838.7,729.7 853.1,721.4" fill="#1fe0ff" stroke="#1fe0ff"/>
<polygon points="867.5,679.6 867.5,696.3 853.1,704.7 838.7,696.3 838.7,679.6 853.1,671.3" fill="#00ffff" stroke="#00ffff"/>
<polygon points="896.3,1230.8 896.3,1247.4 881.9,1255.8 867.5,1247.4 867.5,1230.8 881.9,1222.4" fill="#00ffff" stroke="#00ffff"/>
<polygon points="896.3,1180.7 896.3,1197.3 881.9,1205.7 867.5,1197.3 867.5,1180.7 881.9,1172.3" fill="#00ffff" stroke="#00ffff"/>
<polygon points="896.3,1130.5 896.3,1147.2 881.9,1155.6 867.5,1147.2 867.5,1130.5 881.9,1122.2" fill="#2ed1ff" stroke="#2ed1ff"/>
<polygon points="896.3,1030.3 896.3,1047.0 881.9,1055.4 867.5,1047.0 867.5,1030.3 881.9,1022.0" fill="#33ccff" stroke="#33ccff"/>
<polygon points="896.3,980.2 896.3,996.9 881.9,1005.3 867.5,996.9 867.5,980.2 881.9,971.9" fill="#8f70ff" stroke="#8f70ff"/>
<polygon points="896.3,930.1 896.3,946.8 881.9,955.2 867.5,946.8 867.5,930.1 881.9,921.8" fill="#8f70ff" stroke="#8f70ff"/>
<polygon points="896.3,880.0 896.3,896.8 881.9,905.1 867.5,896.8 867.5,880.0 881.9,871.7" fill="#b04fff" stroke="#b04fff"/>
<polygon points="896.3,829.9 896.3,846.6 881.9,855.0 867.5,846.6 867.5,829.9 881.9,821.6" fill="#33ccff" stroke="#33ccff"/>
<polygon points="896.3,779.8 896.3,796.5 881.9,804.9 867.5,796.5 867.5,779.8 881.9,771.5" fill="#40bfff" stroke="#40bfff"/>
<polygon points="896.3,729.7 896.3,746.4 881.9,754.8 867.5,746.4 867.5,729.7 881.9,721.4" fill="#2ed1ff" stroke="#2ed1ff"/>
<polygon points="896.3,679.6 896.3,696.3 881.9,704.7 867.5,696.3 867.5,679.6 881.9,671.3" fill="#7887ff" stroke="#7887ff"/>
<polygon points="896.3,629.5 896.3,646.2 881.9,654.6 867.5,646.2 867.5,629.5 881.9,621.2" fill="#00ffff" stroke="#00ffff"/>
<polygon points="925.1,1180.7 925.1,1197.3 910.7,1205.7 896.3,1197.3 896.3,1180.7 910.7,1172.3" fill="#00ffff" stroke="#00ffff"/>
<polygon points="925.1,1130.5 925.1,1147.2 910.7,1155.6 896.3,1147.2 896.3,1130.5 910.7,1122.2" fill="#00ffff" stroke="#00ffff"/>
<polygon points="925.1,1030.3 925.1,1047.0 910.7,1055.4 896.3,1047.0 896.3,1030.3 910.7,1022.0" fill="#8f70ff" stroke="#8f70ff"/>
<polygon points="925.1,980.2 925.1,996.9 910.7,1005.3 896.3,996.9 896.3,980.2 910.7,971.9" fill="#9966ff" stroke="#9966ff"/>
<polygon points="925.1,930.1 925.1,946.8 910.7,955.2 896.3,946.8 896.3,930.1 910.7,921.8" fill="#cc33ff" stroke="#cc33ff"/>
<polygon points="925.1,880.0 925.1,896.8 910.7,905.1 896.3,896.8 896.3,880.0 910.7,871.7" fill="#b847ff" stroke="#b847ff"/>
<polygon points="925.1,829.9 925.1,846.6 910.7,855.0 896.3,846.6 896.3,829.9 910.7,821.6" fill="#33ccff" stroke="#33ccff"/>
<polygon points="925.1,779.8 925.1,796.5 910.7,804.9 896.3,796.5 896.3,779.8 910.7,771.5" fill="#6e91ff" stroke="#6e91ff"/>
<polygon points="925.1,729.7 925.1,746.4 910.7,754.8 896.3,746.4 896.3,729.7 910.7,721.4" fill="#1fe0ff" stroke="#1fe0ff"/>
<polygon points="925.1,679.6 925.1,696.3 910.7,704.7 896.3,696.3 896.3,679.6 910.7,671.3" fill="#00ffff" stroke="#00ffff"/>
<polygon points="953.9,1331.0 953.9,1347.6 939.5,1356.0 925.1,1347.6 925.1,1331.0 939.5,1322.6" fill="#1fe0ff" stroke="#1fe0ff"/>
<polygon points="953.9,1230.8 953.9,1247.4 939.5,1255.8 925.1,1247.4 925.1,1230.8 939.5,1222.4" fill="#00ffff" stroke="#00ffff"/>
<polygon points="953.9,1130.5 953.9,1147.2 939.5,1155.6 925.1,1147.2 925.1,1130.5 939.5,1122.2" fill="#1fe0ff" stroke="#1fe0ff"/>
<polygon points="953.9,1080.5 953.9,1097.1 939.5,1105.5 925.1,1097.1 925.1,1080.5 939.5,1072.1" fill="#1fe0ff" stroke="#1fe0ff"/>
<polygon points="953.9,1030.3 953.9,1047.0 939.5,1055.4 925.1,1047.0 925.1,1030.3 939.5,1022.0" fill="#33ccff" stroke="#33ccff"/>
<polygon points="953.9,980.2 953.9,996.9 939.5,1005.3 925.1,996.9 925.1,980.2 939.5,971.9" fill="#6699ff" stroke="#6699ff"/>
<polygon points="953.9,930.1 953.9,946.8 939.5,955.2 925.1,946.8 925.1,930.1 939.5,921.8" fill="#de21ff" stroke="#de21ff"/>
<polygon points="953.9,880.0 953.9,896.8 939.5,905.1 925.1,896.8 925.1,880.0 939.5,871.7" fill="#c23dff" stroke="#c23dff"/>
<polygon points="953.9,829.9 953.9,846.6 939.5,855.0 925.1,846.6 925.1,829.9 939.5,821.6" fill="#cc33ff" stroke="#cc33ff"/>
<polygon points="953.9,779.8 953.9,796.5 939.5,804.9 925.1,796.5 925.1,779.8 939.5,771.5" fill="#cc33ff" stroke="#cc33ff"/>
<polygon points="953.9,729.7 953.9,746.4 939.5,754.8 925.1,746.4 925.1,729.7 939.5,721.4" fill="#59a6ff" stroke="#59a6ff"/>
<polygon points="953.9,679.6 953.9,696.3 939.5,704.7 925.1,696.3 925.1,679.6 939.5,671.3" fill="#2ed1ff" stroke="#2ed1ff"/>
<polygon points="953.9,629.5 953.9,646.2 939.5,654.6 925.1,646.2 925.1,629.5 939.5,621.2" fill="#1fe0ff" stroke="#1fe0ff"/>
<polygon points="982.7,1280.8 982.7,1297.5 968.3,1305.9 953.9,1297.5 953.9,1280.8 968.3,1272.5" fill="#00ffff" stroke="#00ffff"/>
<polygon points="982.7,1180.7 982.7,1197.3 968.3,1205.7 953.9,1197.3 953.9,1180.7 968.3,1172.3" fill="#00ffff" stroke="#00ffff"/>
<polygon points="982.7,1030.3 982.7,1047.0 968.3,1055.4 953.9,1047.0 953.9,1030.3 968.3,1022.0" fill="#00ffff" stroke="#00ffff"/>
<polygon points="982.7,980.2 982.7,996.9 968.3,1005.3 953.9,996.9 953.9,980.2 968.3,971.9" fill="#2ed1ff" stroke="#2ed1ff"/>
<polygon points="982.7,930.1 982.7,946.8 968.3,955.2 953.9,946.8 953.9,930.1 968.3,921.8" fill="#6699ff" stroke="#6699ff"/>
<polygon points="982.7,880.0 982.7,896.8 968.3,905.1 953.9,896.8 953.9,880.0 968.3,871.7" fill="#de21ff" stroke="#de21ff"/>
<polygon points="982.7,829.9 982.7,846.6 968.3,855.0 953.9,846.6 953.9,829.9 968.3,821.6" fill="#c43bff" stroke="#c43bff"/>
<polygon points="982.7,779.8 982.7,796.5 968.3,804.9 953.9,796.5 953.9,779.8 968.3,771.5" fill="#8c73ff" stroke="#8c73ff"/>
<polygon points="982.7,729.7 982.7,746.4 968.3,754.8 953.9,746.4 953.9,729.7 968.3,721.4" fill="#7887ff" stroke="#7887ff"/>
<polygon points="982.7,679.6 982.7,696.3 968.3,704.7 953.9,696.3 953.9,679.6 968.3,671.3" fill="#8080ff" stroke="#8080ff"/>
<polygon points="982.7,629.5 982.7,646.2 968.3,654.6 953.9,646.2 953.9,629.5 968.3,621.2" fill="#59a6ff" stroke="#59a6ff"/>
<polygon points="982.7,579.4 982.7,596.1 968.3,604.5 953.9,596.1 953.9,579.4 968.3,571.1" fill="#59a6ff" stroke="#59a6ff"/>
<polygon points="1011.5,1331.0 1011.5,1347.6 997.1,1356.0 982.7,1347.6 982.7,1331.0 997.1,1322.6" fill="#1fe0ff" stroke="#1fe0ff"/>
<polygon points="1011.5,1280.8 1011.5,1297.5 997.1,1305.9 982.7,1297.5 982.7,1280.8 997.1,1272.5" fill="#946bff" stroke="#946bff"/>
<polygon points="1011.5,1030.3 1011.5,1047.0 997.1,1055.4 982.7,1047.0 982.7,1030.3 997.1,1022.0" fill="#00ffff" stroke="#00ffff"/>
<polygon points="1011.5,930.1 1011.5,946.8 997.1,955.2 982.7,946.8 982.7,930.1 997.1,921.8" fill="#59a6ff" stroke="#59a6ff"/>
<polygon points="1011.5,880.0 1011.5,896.8 997.1,905.1 982.7,896.8 982.7,880.0 997.1,871.7" fill="#8c73ff" stroke="#8c73ff"/>
<polygon points="1011.5,829.9 1011.5,846.6 997.1,855.0 982.7,846.6 982.7,829.9 997.1,821.6" fill="#cc33ff" stroke="#cc33ff"/>
<polygon points="1011.5,779.8 1011.5,796.5 997.1,804.9 982.7,796.5 982.7,779.8 997.1,771.5" fill="#8080ff" stroke="#8080ff"/>
<polygon points="1011.5,729.7 1011.5,746.4 997.1,754.8 982.7,746.4 982.7,729.7 997.1,721.4" fill="#8f70ff" stroke="#8f70ff"/>
<polygon points="1011.5,679.6 1011.5,696.3 997.1,704.7 982.7,696.3 982.7,679.6 997.1,671.3" fill="#9966ff" stroke="#9966ff"/>
<polygon points="1011.5,629.5 1011.5,646.2 997.1,654.6 982.7,646.2 982.7,629.5 997.1,621.2" fill="#47b8ff" stroke="#47b8ff"/>
<polygon points="1011.5,529.3 1011.5,546.0 997.1,554.4 982.7,546.0 982.7,529.3 997.1,521.0" fill="#00ffff" stroke="#00ffff"/>
<polygon points="1040.3,1381.0 1040.3,1397.7 1025.9,1406.1 1011.5,1397.7 1011.5,1381.0 1025.9,1372.7" fill="#00ffff" stroke="#00ffff"/>
<polygon points="1040.3,1331.0 1040.3,1347.6 1025.9,1356.0 1011.5,1347.6 1011.5,1331.0 1025.9,1322.6" fill="#00ffff" stroke="#00ffff"/>
<polygon points="1040.3,1280.8 1040.3,1297.5 1025.9,1305.9 1011.5,1297.5 1011.5,1280.8 1025.9,1272.5" fill="#00ffff" stroke="#00ffff"/>
<polygon points="1040.3,930.1 1040.3,946.8 1025.9,955.2 1011.5,946.8 1011.5,930.1 1025.9,921.8" fill="#00ffff" stroke="#00ffff"/>
<polygon points="1040.3,880.0 1040.3,896.8 1025.9,905.1 1011.5,896.8 1011.5,880.0 1025.9,871.7" fill="#1fe0ff" stroke="#1fe0ff"/>
<polygon points="1040.3,829.9 1040.3,846.6 1025.9,855.0 1011.5,846.6 1011.5,829.9 1025.9,821.6" fill="#1fe0ff" stroke="#1fe0ff"/>
<polygon points="1040.3,779.8 1040.3,796.5 1025.9,804.9 1011.5,796.5 1011.5,779.8 1025.9,771.5" fill="#47b8ff" stroke="#47b8ff"/>
<polygon points="1040.3,729.7 1040.3,746.4 1025.9,754.8 1011.5,746.4 1011.5,729.7 1025.9,721.4" fill="#40bfff" stroke="#40bfff"/>
<polygon points="1040.3,679.6 1040.3,696.3 1025.9,704.7 1011.5,696.3 1011.5,679.6 1025.9,671.3" fill="#ab54ff" stroke="#ab54ff"/>
<polygon points="1040.3,629.5 1040.3,646.2 1025.9,654.6 1011.5,646.2 1011.5,629.5 1025.9,621.2" fill="#59a6ff" stroke="#59a6ff"/>
<polygon points="1040.3,579.4 1040.3,596.1 1025.9,604.5 1011.5,596.1 1011.5,579.4 1025.9,571.1" fill="#1fe0ff" stroke="#1fe0ff"/>
<polygon points="1069.1,880.0 1069.1,896.8 1054.7,905.1 1040.3,896.8 1040.3,880.0 1054.7,871.7" fill="#cc33ff" stroke="#cc33ff"/>
<polygon points="1069.1,829.9 1069.1,846.6 1054.7,855.0 1040.3,846.6 1040.3,829.9 1054.7,821.6" fill="#6e91ff" stroke="#6e91ff"/>
<polygon points="1069.1,779.8 1069.1,796.5 1054.7,804.9 1040.3,796.5 1040.3,779.8 1054.7,771.5" fill="#1fe0ff" stroke="#1fe0ff"/>
<polygon points="1069.1,729.7 1069.1,746.4 1054.7,754.8 1040.3,746.4 1040.3,729.7 1054.7,721.4" fill="#00ffff" stroke="#00ffff"/>
<polygon points="1069.1,679.6 1069.1,696.3 1054.7,704.7 1040.3,696.3 1040.3,679.6 1054.7,671.3" fill="#8080ff" stroke="#8080ff"/>
<polygon points="1069.1,629.5 1069.1,646.2 1054.7,654.6 1040.3,646.2 1040.3,629.5 1054.7,621.2" fill="#59a6ff" stroke="#59a6ff"/>
<polygon points="1097.9,1581.5 1097.9,1598.1 1083.5,1606.5 1069.1,1598.1 1069.1,1581.5 1083.5,1573.1" fill="#00ffff" stroke="#00ffff"/>
<polygon points="1097.9,779.8 1097.9,796.5 1083.5,804.9 1069.1,796.5 1069.1,779.8 1083.5,771.5" fill="#00ffff" stroke="#00ffff"/>
<polygon points="1097.9,729.7 1097.9,746.4 1083.5,754.8 1069.1,746.4 1069.1,729.7 1083.5,721.4" fill="#40bfff" stroke="#40bfff"/>
<polygon points="1097.9,679.6 1097.9,696.3 1083.5,704.7 1069.1,696.3 1069.1,679.6 1083.5,671.3" fill="#8080ff" stroke="#8080ff"/>
<polygon points="1097.9,629.5 1097.9,646.2 1083.5,654.6 1069.1,646.2 1069.1,629.5 1083.5,621.2" fill="#6699ff" stroke="#6699ff"/>
<polygon points="1126.7,679.6 1126.7,696.3 1112.3,704.7 1097.9,696.3 1097.9,679.6 1112.3,671.3" fill="#2ed1ff" stroke="#2ed1ff"/>
<polygon points="1126.7,629.5 1126.7,646.2 1112.3,654.6 1097.9,646.2 1097.9,629.5 1112.3,621.2" fill="#59a6ff" stroke="#59a6ff"/>
<polygon points="1155.5,679.6 1155.5,696.3 1141.1,704.7 1126.7,696.3 1126.7,679.6 1141.1,671.3" fill="#33ccff" stroke="#33ccff"/>
<polygon points="1155.5,629.5 1155.5,646.2 1141.1,654.6 1126.7,646.2 1126.7,629.5 1141.1,621.2" fill="#59a6ff" stroke="#59a6ff"/>
<polygon points="1184.2,629.5 1184.2,646.2 1169.9,654.6 1155.5,646.2 1155.5,629.5 1169.9,621.2" fill="#8c73ff" stroke="#8c73ff"/>
<polygon points="1184.2,579.4 1184.2,596.1 1169.9,604.5 1155.5,596.1 1155.5,579.4 1169.9,571.1" fill="#00ffff" stroke="#00ffff"/>
<polygon points="1241.8,579.4 1241.8,596.1 1227.4,604.5 1213.0,596.1 1213.0,579.4 1227.4,571.1" fill="#00ffff" stroke="#00ffff"/>
<polygon points="1270.6,579.4 1270.6,596.1 1256.2,604.5 1241.8,596.1 1241.8,579.4 1256.2,571.1" fill="#33ccff" stroke="#33ccff"/>
<polygon points="1299.4,579.4 1299.4,596.1 1285.0,604.5 1270.6,596.1 1270.6,579.4 1285.0,571.1" fill="#00ffff" stroke="#00ffff"/>
<polygon points="1357.0,529.3 1357.0,546.0 1342.6,554.4 1328.2,546.0 1328.2,529.3 1342.6,521.0" fill="#00ffff" stroke="#00ffff"/>
</g>
<g stroke-width="4" stroke-dasharray="15.417 6.667" fill="none">
<line x1="361.0" y1="1629.9" x2="361.0" y2="321.1" stroke="pink"/>
<line x1="513.0" y1="1629.9" x2="513.0" y2="321.1" stroke="violet"/>
<line x1="636.0" y1="1629.9" x2="636.0" y2="321.1" stroke="brown"/>
<line x1="768.0" y1="1629.9" x2="768.0" y2="321.1" stroke="blue"/>
<line x1="805.0" y1="1629.9" x2="805.0" y2="321.1" stroke="orange"/>
<line x1="907.0" y1="1629.9" x2="907.0" y2="321.1" stroke="skyblue"/>
<line x1="943.0" y1="1629.9" x2="943.0" y2="321.1" stroke="red"/>
<line x1="969.0" y1="1629.9" x2="969.0" y2="321.1" stroke="gray"/>
<line x1="1057.0" y1="1629.9" x2="1057.0" y2="321.1" stroke="green"/>
<line x1="183.1" y1="1370.0" x2="1483.3" y2="1370.0" stroke="pink"/>
<line x1="183.1" y1="1305.0" x2="1483.3" y2="1305.0" stroke="violet"/>
<line x1="183.1" y1="1091.0" x2="1483.3" y2="1091.0" stroke="brown"/>
<line x1="183.1" y1="987.0" x2="1483.3" y2="987.0" stroke="blue"/>
<line x1="183.1" y1="917.0" x2="1483.3" y2="917.0" stroke="orange"/>
<line x1="183.1" y1="950.0" x2="1483.3" y2="950.0" stroke="skyblue"/>
<line x1="183.1" y1="854.0" x2="1483.3" y2="854.0" stroke="red"/>
<line x1="183.1" y1="586.0" x2="1483.3" y2="586.0" stroke="gray"/>
<line x1="183.1" y1="677.0" x2="1483.3" y2="677.0" stroke="green"/>
</g>
<g fill="#5799c7" stroke="#000" stroke-width="2.6" stroke-linejoin="miter">
<rect x="251.60" y="252.30" width="27.35" height="0.00"/>
<rect x="278.95" y="250.60" width="27.35" height="1.70"/>
<rect x="306.30" y="237.30" width="27.35" height="15.00"/>
<rect x="333.65" y="236.30" width="27.35" height="16.00"/>
<rect x="361.00" y="216.60" width="27.35" height="35.70"/>
<rect x="388.35" y="232.30" width="27.35" height="20.00"/>
<rect x="415.70" y="234.30" width="27.35" height="18.00"/>
<rect x="443.05" y="248.30" width="27.35" height="4.00"/>
<rect x="470.40" y="247.30" width="27.35" height="5.00"/>
<rect x="497.75" y="242.50" width="27.35" height="9.80"/>
<rect x="525.10" y="208.60" width="27.35" height="43.70"/>
<rect x="552.45" y="142.60" width="27.35" height="109.70"/>
<rect x="579.80" y="148.50" width="27.35" height="103.80"/>
<rect x="607.15" y="139.30" width="27.35" height="113.00"/>
<rect x="634.50" y="194.30" width="27.35" height="58.00"/>
<rect x="661.85" y="183.30" width="27.35" height="69.00"/>
<rect x="689.20" y="230.30" width="27.35" height="22.00"/>
<rect x="716.55" y="196.30" width="27.35" height="56.00"/>
<rect x="743.90" y="116.30" width="27.35" height="136.00"/>
<rect x="771.25" y="212.30" width="27.35" height="40.00"/>
<rect x="798.60" y="204.30" width="27.35" height="48.00"/>
<rect x="825.95" y="128.30" width="27.35" height="124.00"/>
<rect x="853.30" y="202.30" width="27.35" height="50.00"/>
<rect x="880.65" y="97.30" width="27.35" height="155.00"/>
<rect x="908.00" y="55.30" width="27.35" height="197.00"/>
<rect x="935.35" y="70.30" width="27.35" height="182.00"/>
<rect x="962.70" y="93.30" width="27.35" height="159.00"/>
<rect x="990.05" y="165.30" width="27.35" height="87.00"/>
<rect x="1017.40" y="219.30" width="27.35" height="33.00"/>
<rect x="1044.75" y="201.30" width="27.35" height="51.00"/>
<rect x="1072.10" y="240.30" width="27.35" height="12.00"/>
<rect x="1099.45" y="246.60" width="27.35" height="5.70"/>
<rect x="1126.80" y="248.30" width="27.35" height="4.00"/>
<rect x="1154.15" y="245.30" width="27.35" height="7.00"/>
<rect x="1181.50" y="251.00" width="27.35" height="1.30"/>
<rect x="1208.85" y="251.00" width="27.35" height="1.30"/>
<rect x="1236.20" y="251.10" width="27.35" height="1.20"/>
<rect x="1263.55" y="251.80" width="27.35" height="0.50"/>
<rect x="1290.90" y="251.90" width="27.35" height="0.40"/>
<rect x="1318.25" y="250.80" width="27.35" height="1.50"/>
<rect x="1345.60" y="251.90" width="27.35" height="0.40"/>
<rect x="1372.95" y="252.00" width="27.35" height="0.30"/>
<rect x="1400.30" y="252.00" width="27.35" height="0.30"/>
<rect x="1427.65" y="252.00" width="27.35" height="0.30"/>
</g>
<g fill="#5799c7" stroke="#000" stroke-width="1.5" stroke-linejoin="miter">
<rect x="1543.50" y="563.30" width="4.83" height="14.61"/>
<rect x="1543.50" y="577.91" width="2.17" height="14.61"/>
<rect x="1543.50" y="592.51" width="2.17" height="14.61"/>
<rect x="1543.50" y="607.12" width="7.83" height="14.61"/>
<rect x="1543.50" y="621.73" width="6.50" height="14.61"/>
<rect x="1543.50" y="636.33" width="17.83" height="14.61"/>
<rect x="1543.50" y="650.94" width="20.83" height="14.61"/>
<rect x="1543.50" y="665.55" width="25.83" height="14.61"/>
<rect x="1543.50" y="680.16" width="38.83" height="14.61"/>
<rect x="1543.50" y="694.76" width="26.83" height="14.61"/>
<rect x="1543.50" y="709.37" width="24.83" height="14.61"/>
<rect x="1543.50" y="723.98" width="18.83" height="14.61"/>
<rect x="1543.50" y="738.58" width="7.50" height="14.61"/>
<rect x="1543.50" y="753.19" width="11.50" height="14.61"/>
<rect x="1543.50" y="767.80" width="11.50" height="14.61"/>
<rect x="1543.50" y="782.40" width="55.83" height="14.61"/>
<rect x="1543.50" y="797.01" width="39.50" height="14.61"/>
<rect x="1543.50" y="811.62" width="53.83" height="14.61"/>
<rect x="1543.50" y="826.23" width="61.83" height="14.61"/>
<rect x="1543.50" y="840.83" width="79.83" height="14.61"/>
<rect x="1543.50" y="855.44" width="34.83" height="14.61"/>
<rect x="1543.50" y="870.05" width="97.83" height="14.61"/>
<rect x="1543.50" y="884.65" width="138.83" height="14.61"/>
<rect x="1543.50" y="899.26" width="201.83" height="14.61"/>
<rect x="1543.50" y="913.87" width="137.83" height="14.61"/>
<rect x="1543.50" y="928.47" width="131.83" height="14.61"/>
<rect x="1543.50" y="943.08" width="170.83" height="14.61"/>
<rect x="1543.50" y="957.69" width="108.83" height="14.61"/>
<rect x="1543.50" y="972.30" width="166.83" height="14.61"/>
<rect x="1543.50" y="986.90" width="41.50" height="14.61"/>
<rect x="1543.50" y="1001.51" width="159.83" height="14.61"/>
<rect x="1543.50" y="1016.12" width="139.83" height="14.61"/>
<rect x="1543.50" y="1030.72" width="84.50" height="14.61"/>
<rect x="1543.50" y="1045.33" width="91.83" height="14.61"/>
<rect x="1543.50" y="1059.94" width="65.83" height="14.61"/>
<rect x="1543.50" y="1074.55" width="51.83" height="14.61"/>
<rect x="1543.50" y="1089.15" width="37.83" height="14.61"/>
<rect x="1543.50" y="1103.76" width="30.83" height="14.61"/>
<rect x="1543.50" y="1118.37" width="14.83" height="14.61"/>
<rect x="1543.50" y="1132.97" width="9.50" height="14.61"/>
<rect x="1543.50" y="1147.58" width="8.50" height="14.61"/>
<rect x="1543.50" y="1162.19" width="10.50" height="14.61"/>
<rect x="1543.50" y="1176.79" width="19.50" height="14.61"/>
<rect x="1543.50" y="1191.40" width="14.50" height="14.61"/>
<rect x="1543.50" y="1206.01" width="24.83" height="14.61"/>
<rect x="1543.50" y="1220.61" width="115.83" height="14.61"/>
<rect x="1543.50" y="1235.22" width="38.83" height="14.61"/>
<rect x="1543.50" y="1249.83" width="16.50" height="14.61"/>
<rect x="1543.50" y="1264.44" width="15.50" height="14.61"/>
<rect x="1543.50" y="1279.04" width="24.50" height="14.61"/>
<rect x="1543.50" y="1293.65" width="22.50" height="14.61"/>
<rect x="1543.50" y="1308.26" width="20.50" height="14.61"/>
<rect x="1543.50" y="1322.86" width="5.50" height="14.61"/>
<rect x="1543.50" y="1337.47" width="16.83" height="14.61"/>
<rect x="1543.50" y="1352.08" width="66.83" height="14.61"/>
<rect x="1543.50" y="1366.68" width="36.50" height="14.61"/>
<rect x="1543.50" y="1381.29" width="21.83" height="14.61"/>
<rect x="1543.50" y="1395.90" width="13.83" height="14.61"/>
<rect x="1543.50" y="1410.51" width="1.83" height="14.61"/>
</g>
<g stroke="#000" stroke-width="3.33" fill="none" stroke-linecap="square">
<path d="M183.4 321.7V1630.4H1483.3"/>
<path d="M183.4 45.7V252.3H1483.3"/>
<path d="M1543.5 321.7V1630.4H1755.4"/>
</g>
<g stroke="#000" stroke-width="3.33" fill="none">
<line x1="264.4" y1="1630.4" x2="264.4" y2="1645.5"/>
<line x1="264.4" y1="252.3" x2="264.4" y2="267.4"/>
<line x1="426.9" y1="1630.4" x2="426.9" y2="1645.5"/>
<line x1="426.9" y1="252.3" x2="426.9" y2="267.4"/>
<line x1="589.4" y1="1630.4" x2="589.4" y2="1645.5"/>
<line x1="589.4" y1="252.3" x2="589.4" y2="267.4"/>
<line x1="751.9" y1="1630.4" x2="751.9" y2="1645.5"/>
<line x1="751.9" y1="252.3" x2="751.9" y2="267.4"/>
<line x1="914.4" y1="1630.4" x2="914.4" y2="1645.5"/>
<line x1="914.4" y1="252.3" x2="914.4" y2="267.4"/>
<line x1="1076.9" y1="1630.4" x2="1076.9" y2="1645.5"/>
<line x1="1076.9" y1="252.3" x2="1076.9" y2="267.4"/>
<line x1="1239.4" y1="1630.4" x2="1239.4" y2="1645.5"/>
<line x1="1239.4" y1="252.3" x2="1239.4" y2="267.4"/>
<line x1="1401.9" y1="1630.4" x2="1401.9" y2="1645.5"/>
<line x1="1401.9" y1="252.3" x2="1401.9" y2="267.4"/>
<line x1="183.4" y1="1537.9" x2="168.3" y2="1537.9"/>
<line x1="1543.5" y1="1537.9" x2="1528.4" y2="1537.9"/>
<line x1="183.4" y1="1350.7" x2="168.3" y2="1350.7"/>
<line x1="1543.5" y1="1350.7" x2="1528.4" y2="1350.7"/>
<line x1="183.4" y1="1163.5" x2="168.3" y2="1163.5"/>
<line x1="1543.5" y1="1163.5" x2="1528.4" y2="1163.5"/>
<line x1="183.4" y1="976.3" x2="168.3" y2="976.3"/>
<line x1="1543.5" y1="976.3" x2="1528.4" y2="976.3"/>
<line x1="183.4" y1="789.1" x2="168.3" y2="789.1"/>
<line x1="1543.5" y1="789.1" x2="1528.4" y2="789.1"/>
<line x1="183.4" y1="601.9" x2="168.3" y2="601.9"/>
<line x1="1543.5" y1="601.9" x2="1528.4" y2="601.9"/>
<line x1="183.4" y1="414.7" x2="168.3" y2="414.7"/>
<line x1="1543.5" y1="414.7" x2="1528.4" y2="414.7"/>
<line x1="183.4" y1="252.3" x2="168.3" y2="252.3"/>
<line x1="183.4" y1="71.0" x2="168.3" y2="71.0"/>
<line x1="1543.5" y1="1630.4" x2="1543.5" y2="1645.5"/>
<line x1="1678.4" y1="1630.4" x2="1678.4" y2="1645.5"/>
</g>
<g font-family="'Liberation Sans', 'Noto Sans CJK JP', sans-serif" font-size="45.0" fill="#000">
<text x="263.6" y="1692" text-anchor="middle">120</text>
<text x="426.1" y="1692" text-anchor="middle">125</text>
<text x="588.6" y="1692" text-anchor="middle">130</text>
<text x="751.1" y="1692" text-anchor="middle">135</text>
<text x="913.6" y="1692" text-anchor="middle">140</text>
<text x="1076.1" y="1692" text-anchor="middle">145</text>
<text x="1238.6" y="1692" text-anchor="middle">150</text>
<text x="1401.1" y="1692" text-anchor="middle">155</text>
<text x="152.0" y="1553.9" text-anchor="end">20</text>
<text x="152.0" y="1366.7" text-anchor="end">25</text>
<text x="152.0" y="1179.5" text-anchor="end">30</text>
<text x="152.0" y="992.3" text-anchor="end">35</text>
<text x="152.0" y="805.1" text-anchor="end">40</text>
<text x="152.0" y="617.9" text-anchor="end">45</text>
<text x="152.0" y="430.7" text-anchor="end">50</text>
<text x="152.0" y="268.3" text-anchor="end">0</text>
<text x="152.0" y="87.0" text-anchor="end">1000</text>
<text x="1543.5" y="1692" text-anchor="middle">0</text>
<text x="1678.4" y="1692" text-anchor="middle">500</text>
</g>
<g font-family="'Liberation Sans', 'Noto Sans CJK JP', sans-serif" font-size="39.7" fill="#000">
<text x="833" y="1748" text-anchor="middle">経度</text>
<text transform="translate(76.7 978.6) rotate(-90)" text-anchor="middle">緯度</text>
</g>
</svg>
</body>
</html>
